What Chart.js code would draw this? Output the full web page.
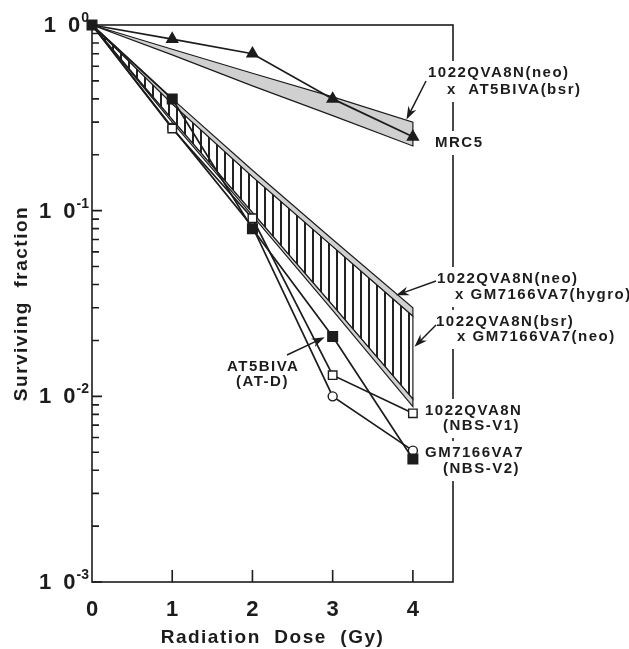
<!DOCTYPE html>
<html lang="en">
<head>
<meta charset="UTF-8">
<title>Surviving fraction vs radiation dose</title>
<script src="https://cdn.jsdelivr.net/npm/chart.js"></script>
<style>
  html, body { margin: 0; background: #fff; }
  canvas { display: block; }
</style>
</head>
<body>
<canvas id="survival" width="629" height="649"></canvas>
<script>
// measured cell lines
const doses = [0, 1, 2, 3, 4];
const mrc5 = [1, 0.84, 0.70, 0.40, 0.25];
const at5biva = [1, 0.40, 0.080, 0.021, 0.0046];
const qva8n = [1, 0.277, 0.091, 0.013, 0.0081];
const gm7166 = [1, 0.28, 0.082, 0.010, 0.0051];

// hybrid ranges: upper and lower edge of each band
const bsrTop = [1, 0.74, 0.55, 0.41, 0.30];
const bsrBottom = [1, 0.69, 0.47, 0.325, 0.223];
const hygroTop = [1, 0.40, 0.165, 0.070, 0.030];
const hygroBottom = [1, 0.375, 0.152, 0.064, 0.027];
const neoBottom = [1, 0.31, 0.098, 0.031, 0.0097];
const lowBottom = [1, 0.30, 0.094, 0.029, 0.0088];

const yTicks = [1, 0.1, 0.01, 0.001];
const yExp = ['0', '-1', '-2', '-3'];
const xTicks = [0, 1, 2, 3, 4];

const ink = '#1c1c1c';
const dots = '#d0d0d0';
const FONT = '"Liberation Sans", Arial, sans-serif';

const canvas = document.getElementById('survival');
const ctx = canvas.getContext('2d');

function hatch() {
  const c = document.createElement('canvas');
  c.width = 8; c.height = 8;
  const g = c.getContext('2d');
  g.fillStyle = '#fff';
  g.fillRect(0, 0, 8, 8);
  g.fillStyle = '#222';
  g.fillRect(0, 0, 2, 8);
  return ctx.createPattern(c, 'repeat');
}

// closed outline: along the top edge, back along the bottom edge
function band(top, bottom) {
  const pts = doses.map((d, i) => ({ x: d, y: top[i] }));
  for (let i = doses.length - 1; i >= 0; i--) pts.push({ x: doses[i], y: bottom[i] });
  return pts;
}

function series(vals) {
  return doses.map((d, i) => ({ x: d, y: vals[i] }));
}

const bandStyle = { fill: 'shape', borderColor: ink, borderWidth: 1.2, pointRadius: 0, clip: false, order: 10 };
const lineStyle = { borderColor: ink, borderWidth: 1.7, pointBorderColor: ink, pointBorderWidth: 1.4, clip: false };

// labels and arrows (tip in data units)
const notes = [
  { lines: [['1022QVA8N(neo)', 428, 73], ['x  AT5BIVA(bsr)', 447, 90]], arrow: [426, 81, 3.92, 0.31] },
  { lines: [['MRC5', 435, 143]] },
  { lines: [['1022QVA8N(neo)', 437, 279], ['x GM7166VA7(hygro)', 455, 295]], arrow: [436, 281, 3.79, 0.035] },
  { lines: [['1022QVA8N(bsr)', 436, 322], ['x GM7166VA7(neo)', 457, 337]], arrow: [436, 325, 4.02, 0.0185] },
  { lines: [['1022QVA8N', 425, 411], ['(NBS-V1)', 443, 426]] },
  { lines: [['GM7166VA7', 425, 453], ['(NBS-V2)', 443, 469]] },
  { lines: [['AT5BIVA', 227, 367], ['(AT-D)', 236, 382]], arrow: [287, 355, 2.9, 0.0208], noBox: true }
];

function arrow(c, x0, y0, x1, y1) {
  const ang = Math.atan2(y1 - y0, x1 - x0);
  const len = 13, w = 4.5;
  c.beginPath();
  c.moveTo(x0, y0);
  c.lineTo(x1 - Math.cos(ang) * 8, y1 - Math.sin(ang) * 8);
  c.stroke();
  c.save();
  c.translate(x1, y1);
  c.rotate(ang);
  c.beginPath();
  c.moveTo(0, 0);
  c.lineTo(-len, -w);
  c.lineTo(-len + 4, 0);
  c.lineTo(-len, w);
  c.closePath();
  c.fill();
  c.restore();
}

const decor = {
  id: 'decor',
  afterDraw(chart) {
    const { ctx: c, chartArea: a, scales: { x, y } } = chart;
    c.save();
    c.strokeStyle = ink;
    c.fillStyle = ink;
    c.lineWidth = 1.6;
    c.strokeRect(a.left, a.top, a.right - a.left, a.bottom - a.top);

    // log ticks on the left, pointing inward
    c.beginPath();
    for (let e = -3; e < 0; e++) {
      for (let k = 1; k <= 9; k++) {
        const py = y.getPixelForValue(k * Math.pow(10, e));
        const len = k === 1 ? 10 : 7;
        c.moveTo(a.left, py);
        c.lineTo(a.left + len, py);
      }
    }
    xTicks.forEach(v => {
      if (v === 0) return;
      const px = x.getPixelForValue(v);
      c.moveTo(px, a.bottom);
      c.lineTo(px, a.bottom - 12);
    });
    c.stroke();

    // y tick labels "1 0" with superscript exponent
    c.textBaseline = 'middle';
    yTicks.forEach((v, i) => {
      const py = y.getPixelForValue(v);
      c.font = 'bold 14px ' + FONT;
      c.letterSpacing = '0px';
      const ew = c.measureText(yExp[i]).width;
      const right = a.left - 3;
      c.textAlign = 'left';
      c.fillText(yExp[i], right - ew, py - 7);
      c.font = 'bold 22px ' + FONT;
      c.letterSpacing = '3px';
      c.textAlign = 'right';
      c.fillText('1 0', right - ew + 2, py + 1);
    });

    c.letterSpacing = '0px';
    c.font = 'bold 22px ' + FONT;
    c.textAlign = 'center';
    xTicks.forEach(v => c.fillText(String(v), x.getPixelForValue(v), 610));

    c.font = 'bold 19px ' + FONT;
    c.letterSpacing = '1.5px';
    c.fillText('Radiation  Dose  (Gy)', (a.left + a.right) / 2, 638);
    c.save();
    c.translate(22, (a.top + a.bottom) / 2);
    c.rotate(-Math.PI / 2);
    c.fillText('Surviving  fraction', 0, 0);
    c.restore();

    // annotations
    c.font = 'bold 15px ' + FONT;
    c.letterSpacing = '1.5px';
    c.textAlign = 'left';
    notes.forEach(n => {
      if (!n.noBox) {
        let l = Infinity, r = -Infinity, t = Infinity, b = -Infinity;
        n.lines.forEach(([s, tx, ty]) => {
          l = Math.min(l, tx); r = Math.max(r, tx + c.measureText(s).width);
          t = Math.min(t, ty - 9); b = Math.max(b, ty + 9);
        });
        c.fillStyle = '#fff';
        c.fillRect(l - 4, t - 3, r - l + 8, b - t + 6);
        c.fillStyle = ink;
      }
      n.lines.forEach(([s, tx, ty]) => c.fillText(s, tx, ty));
      if (n.arrow) {
        const [x0, y0, dx, dy] = n.arrow;
        c.lineWidth = 1.5;
        arrow(c, x0, y0, x.getPixelForValue(dx), y.getPixelForValue(dy));
      }
    });
    c.restore();
  }
};

new Chart(canvas, {
  type: 'line',
  data: {
    datasets: [
      { ...bandStyle, data: band(bsrTop, bsrBottom), backgroundColor: dots },
      { ...bandStyle, data: band(hygroBottom, neoBottom), backgroundColor: hatch() },
      { ...bandStyle, data: band(hygroTop, hygroBottom), backgroundColor: dots },
      { ...bandStyle, data: band(neoBottom, lowBottom), backgroundColor: dots },
      { ...lineStyle, label: 'GM7166VA7 (NBS-V2)', data: series(gm7166), pointStyle: 'circle',
        pointRadius: [0, 4.5, 4.5, 4.5, 4.5], pointBackgroundColor: '#fff', order: 4 },
      { ...lineStyle, label: '1022QVA8N (NBS-V1)', data: series(qva8n), pointStyle: 'rect',
        pointRadius: [0, 6, 6, 6, 6], pointBackgroundColor: '#fff', order: 3 },
      { ...lineStyle, label: 'AT5BIVA (AT-D)', data: series(at5biva), pointStyle: 'rect',
        pointRadius: 6.8, pointBackgroundColor: ink, order: 2 },
      { ...lineStyle, label: 'MRC5', data: series(mrc5), pointStyle: 'triangle',
        pointRadius: [0, 6.3, 6.3, 6.3, 6.3], pointBackgroundColor: ink, order: 1 }
    ]
  },
  options: {
    responsive: false,
    animation: false,
    layout: { padding: { left: 92, right: 176, top: 25, bottom: 67 } },
    elements: { line: { tension: 0 } },
    plugins: { legend: { display: false }, tooltip: { enabled: false } },
    scales: {
      x: { type: 'linear', min: 0, max: 4.5, display: false },
      y: { type: 'logarithmic', min: 0.001, max: 1, display: false }
    }
  },
  plugins: [decor]
});
</script>
</body>
</html>
